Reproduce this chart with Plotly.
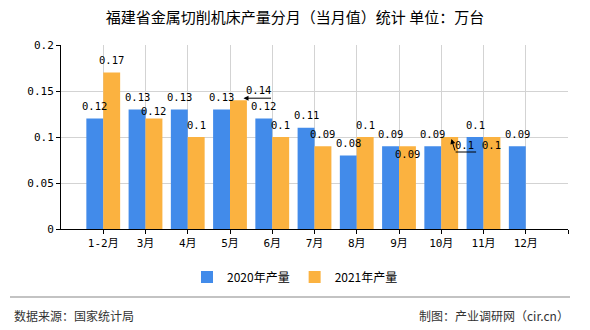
import plotly.graph_objects as go

months = ["1-2月", "3月", "4月", "5月", "6月", "7月", "8月", "9月", "10月", "11月", "12月"]
prod_2020 = [0.12, 0.13, 0.13, 0.13, 0.12, 0.11, 0.08, 0.09, 0.09, 0.10, 0.09]
prod_2021 = [0.17, 0.12, 0.10, 0.14, 0.10, 0.09, 0.10, 0.09, 0.10, 0.10, None]
series_names = ["2020年产量", "2021年产量"]
title_text = "福建省金属切削机床产量分月（当月值）统计 单位：万台"
source_text = "数据来源：国家统计局"
credit_text = "制图：产业调研网（cir.cn）"

W, H = 590, 330
ML, MR, MT, MB = 61, 22, 45, 101
PW, PH = W - ML - MR, H - MT - MB

def px2x(px):
    return (px - ML) / PW

def py2y(py):
    return (H - MB - py) / PH

BLUE = "#428BEA"
ORANGE = "#FBB240"
LABEL_FONT = dict(family="DejaVu Sans Mono", size=10.5, color="#000000")
CJK = "Noto Sans CJK SC"

fig = go.Figure()
fig.add_trace(go.Bar(x=months, y=prod_2020, name=series_names[0], marker=dict(color=BLUE, line=dict(width=0))))
fig.add_trace(go.Bar(x=months, y=prod_2021, name=series_names[1], marker=dict(color=ORANGE, line=dict(width=0))))

annotations = []

def fmt(v):
    return ("%.2f" % v).rstrip("0").rstrip(".")

# data labels
for i, v in enumerate(prod_2020):
    if v is None:
        continue
    annotations.append(dict(x=i - 0.2, y=v, xref="x", yref="y", text=fmt(v), showarrow=False,
                            yshift=12.5, font=LABEL_FONT))

for i, v in enumerate(prod_2021):
    if v is None:
        continue
    ys, xs = 12.5, 0
    if i == 1:
        ys = 8
    if i in (7, 9):
        ys = -8
    if i == 3:
        # label with leader arrow
        annotations.append(dict(x=i + 0.32, y=v, xref="x", yref="y", text="", showarrow=True,
                                ax=29, ay=0, yshift=2, arrowhead=2, arrowsize=1, arrowwidth=1,
                                arrowcolor="#000000"))
        xs, ys = 20, 10
    if i == 8:
        annotations.append(dict(x=i + 0.24, y=v, xref="x", yref="y", text="", showarrow=True,
                                ax=4, ay=13, yshift=-2, arrowhead=2, arrowsize=1, arrowwidth=1,
                                arrowcolor="#000000"))
        annotations.append(dict(x=i + 0.34, y=v, xref="x", yref="y", text="", showarrow=True,
                                ax=22, ay=0, yshift=-15, arrowhead=0, arrowwidth=1,
                                arrowcolor="#000000"))
        xs, ys = 15, -8
    annotations.append(dict(x=i + 0.2, y=v, xref="x", yref="y", text=fmt(v), showarrow=False,
                            xshift=xs, yshift=ys, font=LABEL_FONT))

# footer texts
annotations.append(dict(x=px2x(12), y=py2y(315), xref="paper", yref="paper", text=source_text,
                        showarrow=False, xanchor="left", yanchor="middle",
                        font=dict(family=CJK, size=12, color="#333333")))
annotations.append(dict(x=px2x(571), y=py2y(315), xref="paper", yref="paper", text=credit_text,
                        showarrow=False, xanchor="right", yanchor="middle",
                        font=dict(family=CJK, size=12, color="#333333")))

shapes = [dict(type="line", xref="paper", yref="paper", x0=px2x(10), x1=px2x(570),
               y0=py2y(297), y1=py2y(297), line=dict(color="#888888", width=1.2))]

fig.update_layout(
    width=W, height=H,
    margin=dict(l=ML, r=MR, t=MT, b=MB),
    paper_bgcolor="white", plot_bgcolor="white",
    barmode="group", bargap=0.2, bargroupgap=0,
    title=dict(text=title_text, x=0.5, xref="container", xanchor="center",
               y=1 - 18 / H, yref="container", yanchor="middle",
               font=dict(family=CJK, size=15, color="#000000")),
    legend=dict(orientation="h", xref="container", yref="container", x=0.5, xanchor="center",
                y=1 - 277 / H, yanchor="middle", font=dict(family=CJK, size=12, color="#000000"),
                itemwidth=30, traceorder="normal"),
    annotations=annotations,
    shapes=shapes,
    xaxis=dict(type="category", categoryorder="array", categoryarray=months + [" "],
               range=[-1, 11], showline=True, linecolor="#000000", linewidth=1,
               ticks="outside", ticklen=4, tickcolor="#000000",
               showgrid=True, gridcolor="#D3D3D3", gridwidth=1,
               tickfont=dict(family="DejaVu Sans Mono, " + CJK, size=11, color="#000000"),
               fixedrange=True),
    yaxis=dict(range=[0, 0.2], dtick=0.05, tick0=0, showline=True, linecolor="#000000", linewidth=1,
               ticks="outside", ticklen=4, tickcolor="#000000",
               showgrid=True, gridcolor="#D3D3D3", gridwidth=1, zeroline=False,
               tickfont=dict(family="DejaVu Sans Mono", size=11, color="#000000"),
               fixedrange=True),
)

fig.write_html("out.html")
